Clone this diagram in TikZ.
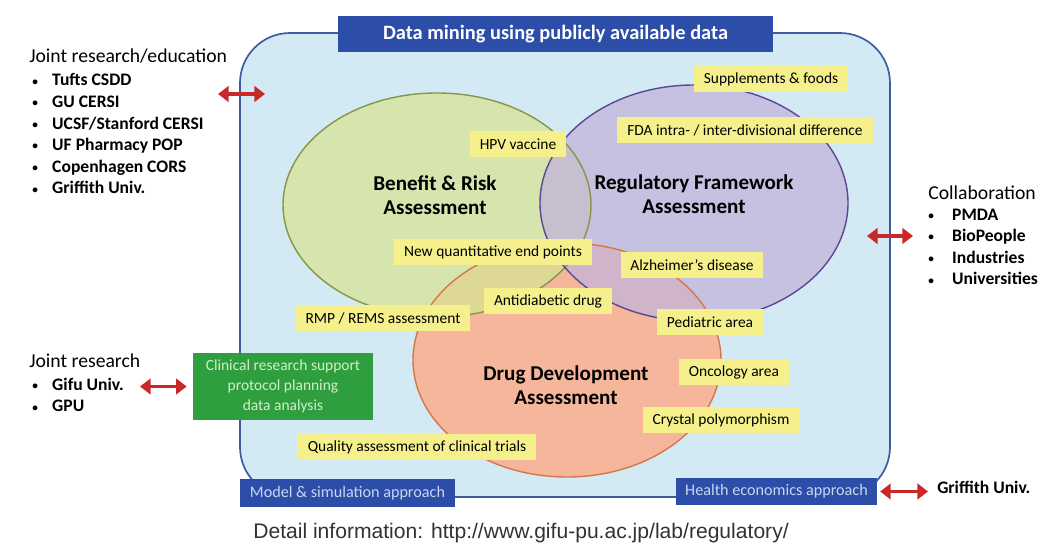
\documentclass[tikz,border=0pt]{standalone}
\usepackage{fontspec}
\setmainfont{Carlito}
\newfontfamily\urlfont{Liberation Sans}
\usetikzlibrary{arrows.meta,positioning}

\definecolor{bgblue}{RGB}{211,234,245}
\definecolor{frameblue}{RGB}{62,90,160}
\definecolor{navy}{RGB}{45,78,168}
\definecolor{paleblue}{RGB}{200,214,240}
\definecolor{benefitgreen}{RGB}{214,228,150}
\definecolor{benefitline}{RGB}{135,150,70}
\definecolor{regpurple}{RGB}{194,180,218}
\definecolor{regline}{RGB}{88,72,150}
\definecolor{drugorange}{RGB}{246,182,155}
\definecolor{drugline}{RGB}{212,120,72}
\definecolor{tagyellow}{RGB}{245,240,140}
\definecolor{clinicgreen}{RGB}{46,158,62}
\definecolor{clinictext}{RGB}{212,236,204}
\definecolor{arrowred}{RGB}{200,40,40}
\definecolor{urlgray}{RGB}{50,50,50}

\newcommand{\listdot}[1][14.2pt]{\makebox[#1][l]{\raisebox{0.5pt}{\fontsize{8}{8}\selectfont\textbullet}}}

\begin{document}
\begin{tikzpicture}[
            x=0.025cm, y=-0.025cm,
            every node/.style={font=\fontsize{11}{13}\selectfont},
            tag/.style={fill=tagyellow, inner xsep=7pt, inner ysep=0pt, minimum height=0.64cm},
            area/.style={font=\bfseries\fontsize{15}{17}\selectfont, align=center},
            navybox/.style={fill=navy, inner sep=0pt},
            head/.style={font=\fontsize{14}{16}\selectfont, anchor=base west, inner sep=0pt},
            items/.style={font=\bfseries\fontsize{12.5}{15.4}\selectfont, align=left, anchor=base west, inner sep=0pt},
            biarrow/.style={{Triangle[length=7.5pt,width=11pt]}-{Triangle[length=7.5pt,width=11pt]}, line width=2.3pt, draw=arrowred}
        ]
        \useasboundingbox (0,0) rectangle (1042,543);

        % frame and the three assessment areas
        \draw[fill=bgblue, draw=frameblue, line width=1.2pt, rounded corners=1.25cm] (240,33) rectangle (890,497);
        \fill[drugorange] (567,360) ellipse [x radius=154, y radius=117];
        \fill[benefitgreen, fill opacity=0.75] (437,205) ellipse [x radius=154, y radius=112];
        \fill[regpurple, fill opacity=0.75] (694,203) ellipse [x radius=154, y radius=118];
        \draw[drugline, line width=1pt] (567,360) ellipse [x radius=154, y radius=117];
        \draw[benefitline, line width=1pt] (437,205) ellipse [x radius=154, y radius=112];
        \draw[regline, line width=1pt] (694,203) ellipse [x radius=154, y radius=118];

        \node[navybox, text=white, font=\bfseries\fontsize{14.5}{17}\selectfont, minimum width=10.875cm, minimum height=0.9cm] (title) at (555.5,34) {Data mining using publicly available data};
        \node[navybox, text=paleblue, font=\fontsize{11.5}{13}\selectfont, minimum width=5.375cm, minimum height=0.7cm] (model) at (347.5,493) {Model \& simulation approach};
        \node[navybox, text=paleblue, font=\fontsize{11.5}{13}\selectfont, minimum width=5.025cm, minimum height=0.675cm] (health) at (776.5,491.5) {Health economics approach};
        \node[fill=clinicgreen, text=clinictext, align=center, minimum width=4.5cm, minimum height=1.675cm, font=\fontsize{11}{14}\selectfont] (clinic) at (283,386.5) {Clinical research support\\protocol planning\\data analysis};

        \node[area] (benefit) at (435,195) {Benefit \& Risk\\Assessment};
        \node[area] (regframe) at (694,194) {Regulatory Framework\\Assessment};
        \node[area] (drugdev) at (566,385) {Drug Development\\Assessment};

        % topics
        \node[tag] (supp) at (771,79) {Supplements \& foods};
        \node[tag] (fda) at (745,130) {FDA intra- / inter-divisional difference};
        \node[tag] (hpv) at (518,144) {HPV vaccine};
        \node[tag] (endpts) at (493,252) {New quantitative end points};
        \node[tag] (alz) at (692,265) {Alzheimer’s disease};
        \node[tag] (antidiab) at (548,301) {Antidiabetic drug};
        \node[tag] (rmp) at (383,318) {RMP / REMS assessment};
        \node[tag] (pedia) at (710,322) {Pediatric area};
        \node[tag] (onco) at (734,372) {Oncology area};
        \node[tag] (crystal) at (721,420) {Crystal polymorphism};
        \node[tag] (quality) at (417,447) {Quality assessment of clinical trials};

        % partners (list nodes sit on the baseline of their last line)
        \node[head] (jreHead) at (29,63) {Joint research/education};
        \node[items] (jreList) at (32,194) {\listdot Tufts CSDD\\ \listdot GU CERSI\\ \listdot UCSF/Stanford CERSI\\ \listdot UF Pharmacy POP\\ \listdot Copenhagen CORS\\ \listdot Griffith Univ.};
        \node[head] (collabHead) at (928,200) {Collaboration};
        \node[items] (collabList) at (928,285) {\listdot[17pt]PMDA\\ \listdot[17pt]BioPeople\\ \listdot[17pt]Industries\\ \listdot[17pt]Universities};
        \node[head] (jrHead) at (29,368) {Joint research};
        \node[items] (jrList) at (32,412) {\listdot Gifu Univ.\\ \listdot GPU};
        \node[items] (griffith) at (937,494) {Griffith Univ.};

        \node[font=\urlfont\fontsize{15}{17}\selectfont, text=urlgray, anchor=base, inner sep=0pt] (url) at (521,539) {Detail information: http://www.gifu-pu.ac.jp/lab/regulatory/};

        \coordinate (jreL) at (218,94);
        \coordinate (jreR) at (265,94);
        \coordinate (collabL) at (867,236);
        \coordinate (collabR) at (913,236);
        \coordinate (gifuL) at (140,386.5);
        \coordinate (griffR) at (928,491.5);
        \draw[biarrow] (jreL) -- (jreR);
        \draw[biarrow] (collabL) -- (collabR);
        \draw[biarrow, shorten >=4.3pt] (gifuL) -- (clinic);
        \draw[biarrow, shorten <=2pt] (health) -- (griffR);

    \end{tikzpicture}
\end{document}
